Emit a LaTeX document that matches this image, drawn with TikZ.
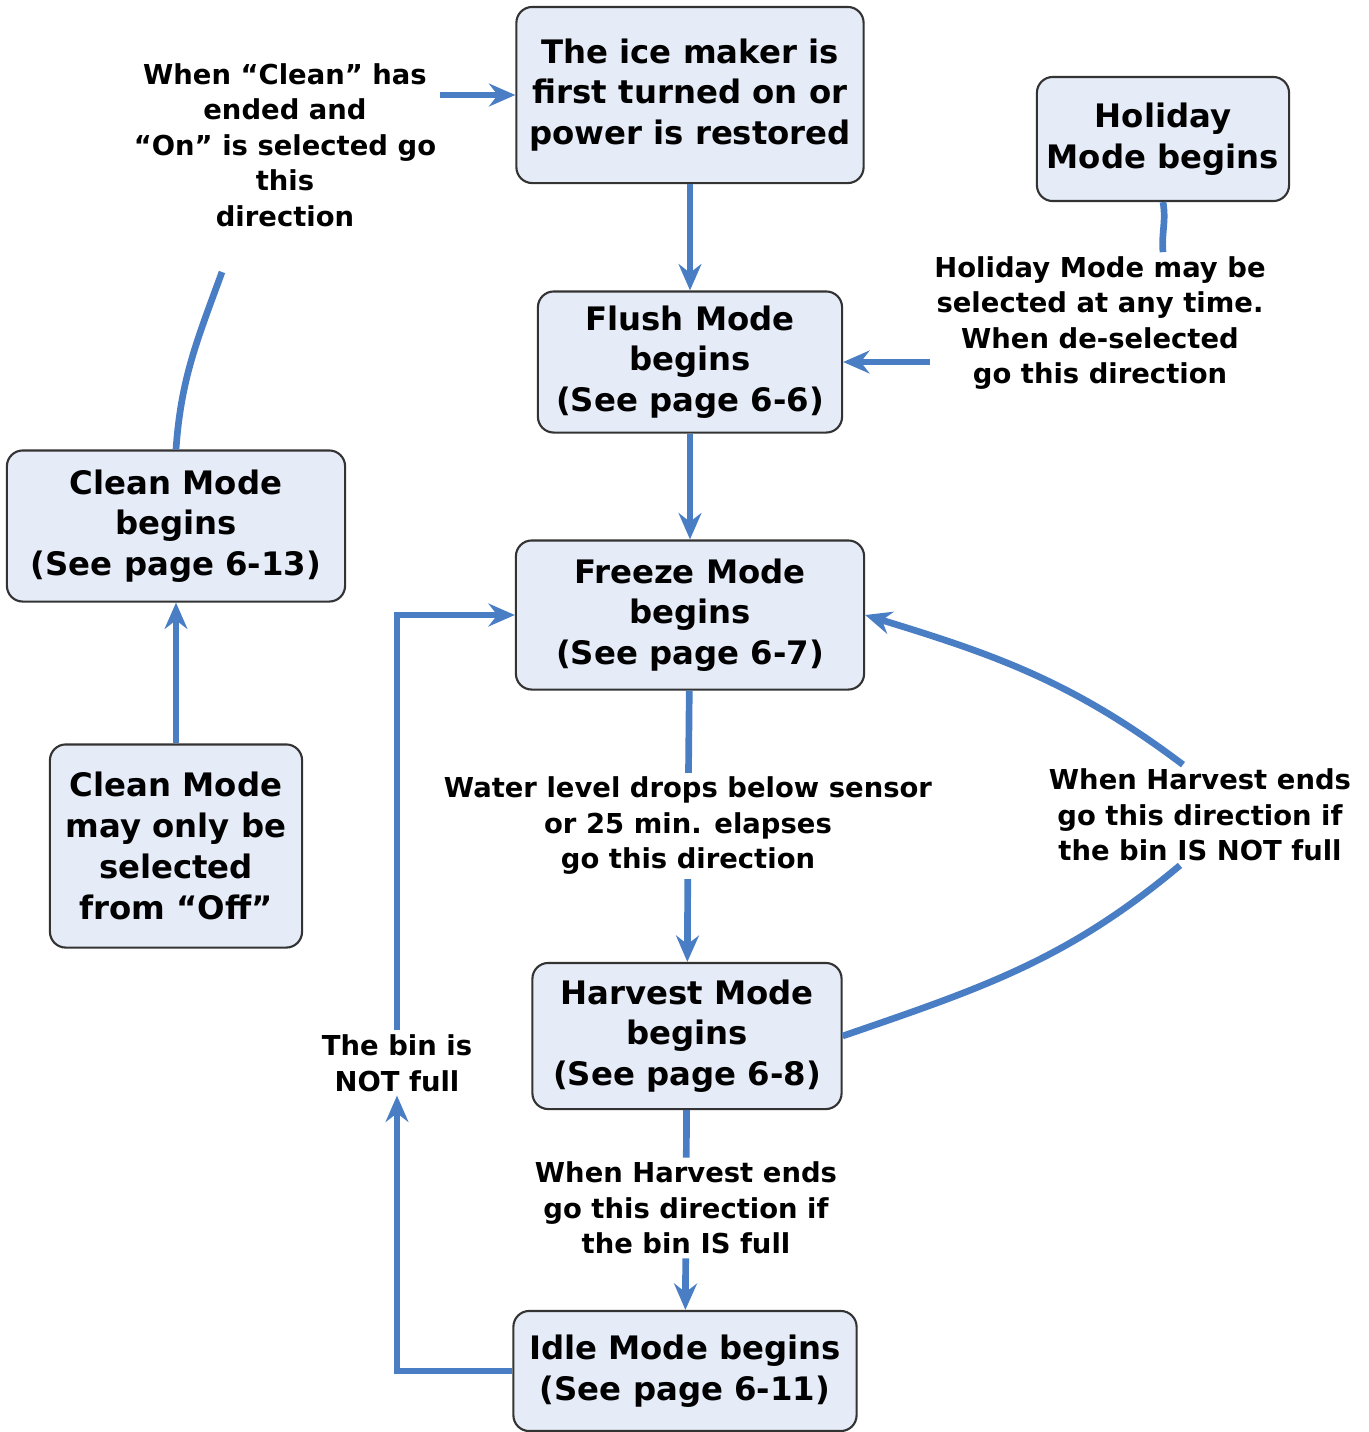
\documentclass[tikz,border=0pt]{standalone}
\usepackage{fontspec}
\setmainfont{DejaVu Sans}
\usetikzlibrary{arrows.meta}
\definecolor{linkblue}{RGB}{74,126,196}
\definecolor{boxfill}{RGB}{229,235,247}
\tikzset{
  mode/.style={draw=black!80,fill=boxfill,rounded corners=4.5pt,line width=0.6pt,align=center,
    font=\fontsize{9.2}{11.6}\selectfont\bfseries,inner sep=0pt},
  note/.style={align=center,font=\fontsize{7.8}{10.1}\selectfont\bfseries,inner sep=1pt},
  link/.style={linkblue,line width=1.9pt},
  go/.style={link,-{Stealth[length=7.5pt,width=6.5pt,inset=2.5pt]}}
}
\begin{document}
\begin{tikzpicture}[x=0.01cm,y=-0.01cm]
  \useasboundingbox (0,0) rectangle (1369,1432);
  % mode boxes
  \node[mode,minimum width=3.47cm,minimum height=1.76cm] (start) at (690,95) {The ice maker is\\first turned on or\\power is restored};
  \node[mode,minimum width=2.52cm,minimum height=1.24cm] (holiday) at (1163,139) {Holiday\\Mode begins};
  \node[mode,minimum width=3.04cm,minimum height=1.41cm] (flush) at (690,362) {Flush Mode\\begins\\(See page 6-6)};
  \node[mode,minimum width=3.38cm,minimum height=1.51cm] (clean) at (176,526) {Clean Mode\\begins\\(See page 6-13)};
  \node[mode,minimum width=3.48cm,minimum height=1.49cm] (freeze) at (690,615) {Freeze Mode\\begins\\(See page 6-7)};
  \node[mode,minimum width=2.52cm,minimum height=2.03cm] (cleanonly) at (176,846) {Clean Mode\\may only be\\selected\\from “Off”};
  \node[mode,minimum width=3.09cm,minimum height=1.46cm] (harvest) at (687,1036) {Harvest Mode\\begins\\(See page 6-8)};
  \node[mode,minimum width=3.43cm,minimum height=1.2cm] (idle) at (685,1371) {Idle Mode begins\\(See page 6-11)};
  % notes on the connectors
  \node[note] (cleannote) at (285,145) {When “Clean” has\\ended and\\“On” is selected go\\this\\direction};
  \node[note] (holnote) at (1100,323) {Holiday Mode may be\\selected at any time.\\When de-selected\\go this direction};
  \node[note] (waternote) at (688,826) {Water level drops below sensor\\or 25 min. elapses\\go this direction};
  \node[note] (notfullnote) at (1200,815) {When Harvest ends\\go this direction if\\the bin IS NOT full};
  \node[note] (fullnote) at (686,1208) {When Harvest ends\\go this direction if\\the bin IS full};
  \node[note] (binnote) at (397,1063) {The bin is\\NOT full};
  \coordinate (cleanend) at (222,272);
  % connectors
  \draw[go] (start) -- (flush);
  \draw[go] (flush) -- (freeze);
  \draw[link] (freeze) -- (waternote);
  \draw[go] (waternote) -- (harvest);
  \draw[link] (harvest) -- (fullnote);
  \draw[go] (fullnote) -- (idle);
  \draw[go] (idle.west) -| (binnote.south);
  \draw[go] (binnote.north) |- (freeze.west);
  \draw[link] (harvest.east) to[out=19,in=-140] ([xshift=-0.2cm]notfullnote.south);
  \draw[go] ([xshift=-0.17cm]notfullnote.north) to[out=143,in=-17] (freeze.east);
  \draw[go] (cleanonly) -- (clean);
  \draw[link] (clean.north) to[out=86,in=-110] (cleanend);
  \draw[go] (cleannote.east |- start.west) -- (start.west);
  \draw[link] (holiday.south) to[out=-80,in=95] (holiday.south |- holnote.north);
  \draw[go] (holnote.west |- flush.east) -- (flush.east);
\end{tikzpicture}
\end{document}
